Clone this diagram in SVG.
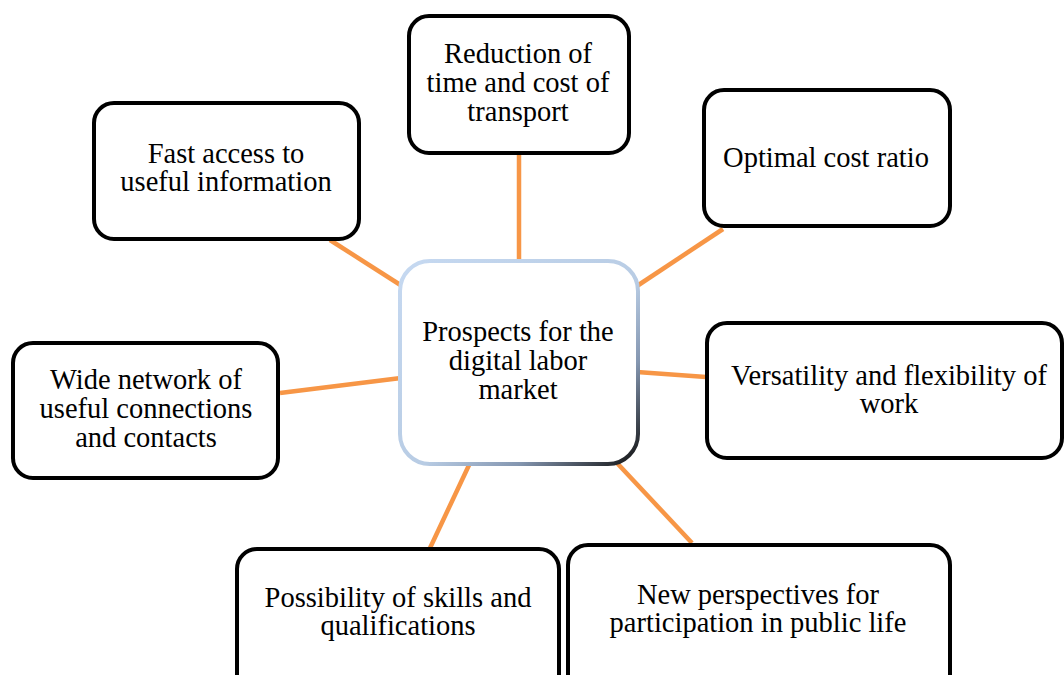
<svg xmlns="http://www.w3.org/2000/svg" width="1064" height="675" viewBox="0 0 1064 675">
<style>
.box{fill:#fff;stroke:#000;stroke-width:4}
.t{font-family:"Liberation Serif","Times New Roman",serif;font-size:28.5px;fill:#000;text-anchor:middle}
.c{stroke:#f79646;stroke-width:4.5;fill:none}
</style>
<defs>
<linearGradient id="cg" x1="0" y1="0" x2="1" y2="1">
<stop offset="0" stop-color="#c6d9f1"/>
<stop offset="0.55" stop-color="#b8cce4"/>
<stop offset="0.75" stop-color="#8496b0"/>
<stop offset="1" stop-color="#101010"/>
</linearGradient>
</defs>
<rect width="1064" height="675" fill="#fff"/>
<g id="connectors">
<line class="c" x1="519" y1="153" x2="519" y2="262"/>
<line class="c" x1="330" y1="240" x2="402" y2="286"/>
<line class="c" x1="723" y1="229" x2="637" y2="286"/>
<line class="c" x1="280" y1="393" x2="401" y2="378"/>
<line class="c" x1="637" y1="372" x2="706" y2="377"/>
<line class="c" x1="470" y1="463" x2="430" y2="548"/>
<line class="c" x1="617" y1="463" x2="692" y2="543"/>
</g>
<g id="center">
<rect x="400" y="261" width="238" height="203" rx="30" fill="#fff" stroke="url(#cg)" stroke-width="4"/>
<text class="t" x="518" y="341">Prospects for the</text>
<text class="t" x="518" y="370">digital labor</text>
<text class="t" x="518" y="399">market</text>
</g>
<g id="n-reduction">
<rect class="box" x="409" y="16" width="220" height="137" rx="20"/>
<text class="t" x="518" y="63">Reduction of</text>
<text class="t" x="518" y="92">time and cost of</text>
<text class="t" x="518" y="121">transport</text>
</g>
<g id="n-fast">
<rect class="box" x="94" y="103" width="265" height="136" rx="20"/>
<text class="t" x="226" y="163">Fast access to</text>
<text class="t" x="226" y="191">useful information</text>
</g>
<g id="n-optimal">
<rect class="box" x="704" y="90" width="246" height="136" rx="20"/>
<text class="t" x="826" y="167">Optimal cost ratio</text>
</g>
<g id="n-wide">
<rect class="box" x="13" y="343" width="265" height="135" rx="20"/>
<text class="t" x="146" y="389">Wide network of</text>
<text class="t" x="146" y="418">useful connections</text>
<text class="t" x="146" y="447">and contacts</text>
</g>
<g id="n-versatility">
<rect class="box" x="707" y="323" width="355" height="135" rx="20"/>
<text class="t" x="889" y="385">Versatility and flexibility of</text>
<text class="t" x="889" y="413">work</text>
</g>
<g id="n-possibility">
<rect class="box" x="237" y="549" width="322" height="150" rx="20"/>
<text class="t" x="398" y="607">Possibility of skills and</text>
<text class="t" x="398" y="635">qualifications</text>
</g>
<g id="n-new">
<rect class="box" x="568" y="545" width="382" height="154" rx="20"/>
<text class="t" x="758" y="604">New perspectives for</text>
<text class="t" x="758" y="632">participation in public life</text>
</g>
</svg>
